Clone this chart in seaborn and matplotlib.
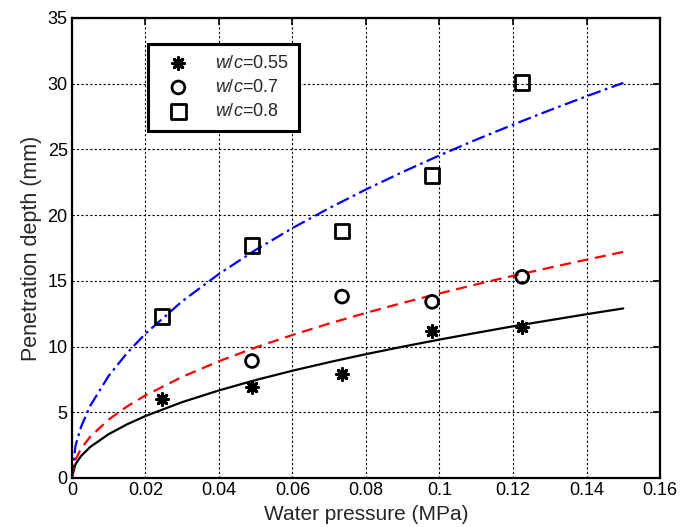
import numpy as np
import pandas as pd
import matplotlib
matplotlib.use("Agg")
import matplotlib.pyplot as plt
import seaborn as sns

# measured points
pressure = [0.0245, 0.049, 0.0735, 0.098, 0.1225]
depth_055 = [6.0, 6.9, 7.9, 11.2, 11.5]
depth_07 = [np.nan, 8.9, 13.8, 13.4, 15.3]
depth_08 = [12.3, 17.7, 18.8, 23.0, 30.1]

# fitted curves
curve_x = [0.0, 0.001, 0.0025, 0.005, 0.01, 0.015, 0.02, 0.03, 0.04, 0.05,
           0.06, 0.07, 0.08, 0.09, 0.10, 0.11, 0.12, 0.13, 0.14, 0.15]
curve_055 = [0.0, 1.05, 1.67, 2.36, 3.33, 4.08, 4.71, 5.77, 6.66, 7.45,
             8.16, 8.81, 9.42, 9.99, 10.53, 11.04, 11.54, 12.0, 12.46, 12.9]
curve_07 = [0.0, 1.4, 2.22, 3.14, 4.44, 5.44, 6.28, 7.69, 8.88, 9.93,
            10.88, 11.75, 12.56, 13.32, 14.04, 14.73, 15.38, 16.0, 16.61, 17.2]
curve_08 = [0.0, 2.45, 3.88, 5.49, 7.76, 9.5, 10.97, 13.44, 15.52, 17.35,
            19.01, 20.53, 21.95, 23.28, 24.54, 25.74, 26.88, 27.98, 29.04, 30.06]

labels = [r"$\it{w/c}$=0.55", r"$\it{w/c}$=0.7", r"$\it{w/c}$=0.8"]

sns.set_style("white")
plt.rcParams["font.family"] = ["Liberation Sans", "DejaVu Sans"]
plt.rcParams["mathtext.fontset"] = "custom"
plt.rcParams["mathtext.it"] = "Liberation Sans:italic"
plt.rcParams["mathtext.rm"] = "Liberation Sans"

fig = plt.figure(figsize=(6.84, 5.27), dpi=100)
ax = fig.add_axes([0.105, 0.093, 0.86, 0.873])

cdf = pd.DataFrame({"x": curve_x, "a": curve_055, "b": curve_07, "c": curve_08})
sns.lineplot(data=cdf, x="x", y="a", ax=ax, color="black", lw=1.6, legend=False, label="_nolegend_")
sns.lineplot(data=cdf, x="x", y="b", ax=ax, color="#ff0000", lw=1.6, legend=False,
             linestyle=(0, (5, 3)), label="_nolegend_")
sns.lineplot(data=cdf, x="x", y="c", ax=ax, color="#0000ff", lw=1.6, legend=False,
             linestyle=(0, (6, 2, 1.2, 2)), label="_nolegend_")

pdf = pd.DataFrame({"x": pressure, "a": depth_055, "b": depth_07, "c": depth_08})
sns.scatterplot(data=pdf, x="x", y="a", ax=ax, marker=(8, 2, 0), s=70, color="black",
                edgecolor="black", linewidth=2.2, label=labels[0], zorder=5)
sns.scatterplot(data=pdf, x="x", y="b", ax=ax, marker="o", s=85, facecolor="none",
                edgecolor="black", linewidth=2.0, label=labels[1], zorder=5)
sns.scatterplot(data=pdf, x="x", y="c", ax=ax, marker="s", s=110, facecolor="none",
                edgecolor="black", linewidth=2.0, label=labels[2], zorder=5)

ax.set_xlim(0, 0.16)
ax.set_ylim(0, 35)
ax.set_xticks(np.arange(0, 0.161, 0.02))
ax.set_xticklabels(["0", "0.02", "0.04", "0.06", "0.08", "0.1", "0.12", "0.14", "0.16"])
ax.set_yticks(np.arange(0, 36, 5))
ax.grid(True, color="black", linestyle=(0, (2, 2)), linewidth=0.8)
ax.set_axisbelow(True)
for s in ax.spines.values():
    s.set_color("black")
    s.set_linewidth(1.6)
    s.set_visible(True)
ax.tick_params(direction="in", length=5, width=1.2, top=True, right=True,
               labelsize=13, colors="black", pad=3)
ax.set_xlabel("Water pressure (MPa)", fontsize=15, labelpad=4)
ax.set_ylabel("Penetration depth (mm)", fontsize=15.5, labelpad=4)

leg = ax.legend(loc="upper left", bbox_to_anchor=(0.129, 0.943), borderaxespad=0,
                fancybox=False, framealpha=1, edgecolor="black", fontsize=13,
                handletextpad=0.9, borderpad=0.6, labelspacing=0.4, handlelength=2.2)
leg.get_frame().set_linewidth(2.2)

fig.savefig("out.png", dpi=100)
